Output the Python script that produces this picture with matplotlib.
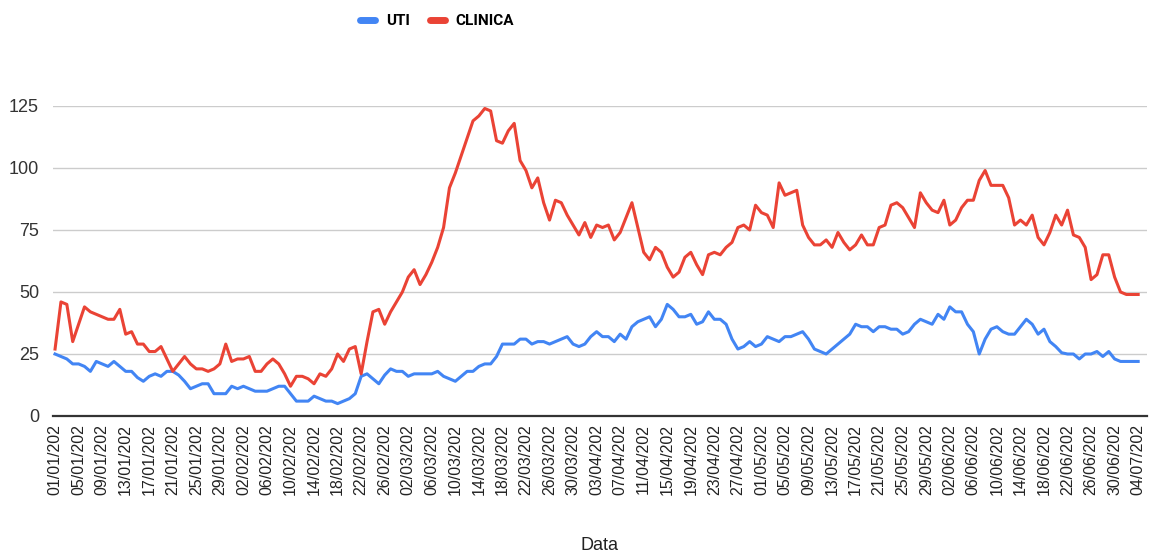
import numpy as np
import pandas as pd
import matplotlib
matplotlib.use("Agg")
import matplotlib.pyplot as plt
from matplotlib.lines import Line2D

# Daily series, 01/01/2022 .. 04/07/2022
dates = pd.date_range("2022-01-01", "2022-07-04", freq="D")

uti = [25, 24, 23, 21, 21, 20, 18, 22, 21, 20,
       22, 20, 18, 18, 15.5, 14, 16, 17, 16, 18,
       18, 16.5, 14, 11, 12, 13, 13, 9, 9, 9,
       12, 11, 12, 11, 10, 10, 10, 11, 12, 12,
       9, 6, 6, 6, 8, 7, 6, 6, 5, 6,
       7, 9, 16, 17, 15, 13, 16.5, 19, 18, 18,
       16, 17, 17, 17, 17, 18, 16, 15, 14, 16,
       18, 18, 20, 21, 21, 24, 29, 29, 29, 31,
       31, 29, 30, 30, 29, 30, 31, 32, 29, 28,
       29, 32, 34, 32, 32, 30, 33, 31, 36, 38,
       39, 40, 36, 39, 45, 43, 40, 40, 41, 37,
       38, 42, 39, 39, 37, 31, 27, 28, 30, 28,
       29, 32, 31, 30, 32, 32, 33, 34, 31, 27,
       26, 25, 27, 29, 31, 33, 37, 36, 36, 34,
       36, 36, 35, 35, 33, 34, 37, 39, 38, 37,
       41, 39, 44, 42, 42, 37, 34, 25, 31, 35,
       36, 34, 33, 33, 36, 39, 37, 33, 35, 30,
       28, 25.5, 25, 25, 23, 25, 25, 26, 24, 26,
       23, 22, 22, 22, 22]

clinica = [27, 46, 45, 30, 37, 44, 42, 41, 40, 39,
           39, 43, 33, 34, 29, 29, 26, 26, 28, 23,
           18, 21, 24, 21, 19, 19, 18, 19, 21, 29,
           22, 23, 23, 24, 18, 18, 21, 23, 21, 17,
           12, 16, 16, 15, 13, 17, 16, 19, 25, 22,
           27, 28, 17, 30, 42, 43, 37, 42, 46, 50,
           56, 59, 53, 57, 62, 68, 76, 92, 98, 105,
           112, 119, 121, 124, 123, 111, 110, 115, 118, 103,
           99, 92, 96, 86, 79, 87, 86, 81, 77, 73,
           78, 72, 77, 76, 77, 71, 74, 80, 86, 76,
           66, 63, 68, 66, 60, 56, 58, 64, 66, 61,
           57, 65, 66, 65, 68, 70, 76, 77, 75, 85,
           82, 81, 76, 94, 89, 90, 91, 77, 72, 69,
           69, 71, 68, 74, 70, 67, 69, 73, 69, 69,
           76, 77, 85, 86, 84, 80, 76, 90, 86, 83,
           82, 87, 77, 79, 84, 87, 87, 95, 99, 93,
           93, 93, 88, 77, 79, 77, 81, 72, 69, 74,
           81, 77, 83, 73, 72, 68, 55, 57, 65, 65,
           56, 50, 49, 49, 49]

y_ticks = [0, 25, 50, 75, 100, 125]
blue = "#4285F4"
red = "#EA4335"

x = np.arange(len(dates))
tick_idx = list(range(0, len(dates), 4))
tick_labels = [dates[i].strftime("%d/%m/%Y")[:-1] for i in tick_idx]

fig = plt.figure(figsize=(11.61, 5.55), dpi=100)
ax = fig.add_axes([53 / 1161, 1 - 416 / 555, (1147 - 53) / 1161, 310 / 555])

ax.plot(x, uti, color=blue, lw=2.2, solid_joinstyle="round", clip_on=False, zorder=3)
ax.plot(x, clinica, color=red, lw=2.2, solid_joinstyle="round", clip_on=False, zorder=3)

ax.set_xlim(-0.35, 185.5)
ax.set_ylim(0, 125)
ax.set_yticks(y_ticks)
ax.set_yticklabels([str(v) for v in y_ticks], fontsize=13, color="#333333",
                   family="Liberation Sans")
ax.set_xticks(tick_idx)
ax.set_xticklabels(tick_labels, rotation=90, fontsize=11.5, color="#222222",
                   family="Liberation Sans")
ax.tick_params(axis="both", length=0)
ax.tick_params(axis="x", pad=6)
ax.tick_params(axis="y", pad=10)

ax.grid(axis="y", color="#cccccc", lw=1)
ax.set_axisbelow(True)
for s in ["top", "right", "left"]:
    ax.spines[s].set_visible(False)
ax.spines["bottom"].set_color("#333333")
ax.spines["bottom"].set_linewidth(1.6)

fig.text(600 / 1161, 1 - 545 / 555, "Data", ha="center", va="center",
         fontsize=13, family="Liberation Sans", color="#222222")

handles = [Line2D([], [], color=blue, lw=5, solid_capstyle="round"),
           Line2D([], [], color=red, lw=5, solid_capstyle="round")]
leg = fig.legend(handles, ["UTI", "CLINICA"], loc="center", ncol=2,
                 bbox_to_anchor=(437 / 1161, 1 - 21 / 555), frameon=False,
                 handlelength=1.0, handletextpad=0.7, columnspacing=1.3,
                 prop={"family": "Roboto", "weight": "bold", "size": 11})

fig.savefig("out.png", dpi=100)
